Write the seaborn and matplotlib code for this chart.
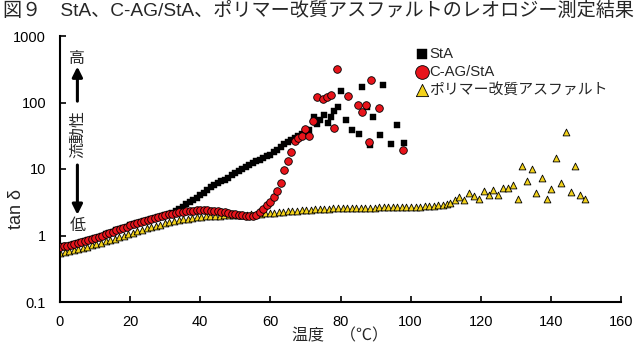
import matplotlib
matplotlib.use("Agg")
import matplotlib.pyplot as plt
import seaborn as sns
import pandas as pd

# ---------------- data ----------------
sta_temp = [0, 1, 2, 3, 4, 5, 6, 7, 8, 9, 10, 11, 12, 13, 14, 15, 16, 17, 18, 19,
            20, 21, 22, 23, 24, 25, 26, 27, 28, 29, 30, 31, 32, 33, 34, 35, 36, 37, 38, 39,
            40, 41, 42, 43, 44, 45, 46, 47, 48, 49, 50, 51, 52, 53, 54, 55, 56, 57, 58, 59,
            60, 61, 62, 63, 64, 65, 66, 67, 68, 69, 70, 71,
            72.3, 73.2, 74.2, 75.4, 76.5, 77.3, 78.2, 79.4, 80.1, 81.6, 83.3, 85.2, 86.2,
            87.5, 88.4, 89.3, 91.3, 92.2, 94.3, 96.2, 98.1]
sta_tand = [0.68, 0.69, 0.70, 0.72, 0.74, 0.76, 0.79, 0.82, 0.85, 0.88, 0.92, 0.96, 1.00,
            1.04, 1.09, 1.14, 1.19, 1.24, 1.30, 1.36, 1.42, 1.48, 1.54, 1.60, 1.66, 1.72,
            1.78, 1.84, 1.90, 1.96, 2.02, 2.08, 2.15, 2.3, 2.5, 2.7, 2.95, 3.2, 3.45, 3.7,
            4.0, 4.4, 4.9, 5.3, 5.7, 6.1, 6.5, 6.9, 7.4, 8.0, 8.7, 9.4, 10.0, 10.7, 11.4,
            12.2, 13.0, 13.8, 14.7, 15.6, 16.5, 18.0, 19.5, 21.5, 23.5, 25.5, 27.5, 29.5,
            31.5, 34, 36.5, 39,
            60, 48, 54, 64.5, 50, 60, 74, 86, 151, 55, 38, 34, 170,
            85, 22.8, 60, 33, 186, 23.4, 45.6, 24.4]

cag_temp = [0, 1, 2, 3, 4, 5, 6, 7, 8, 9, 10, 11, 12, 13, 14, 15, 16, 17, 18, 19,
            20, 21, 22, 23, 24, 25, 26, 27, 28, 29, 30, 31, 32, 33, 34, 35, 36, 37, 38, 39,
            40, 41, 42, 43, 44, 45, 46, 47, 48, 49, 50, 51, 52, 53, 54, 55, 56, 57, 58, 59,
            60, 61, 62, 63, 64, 65, 66, 67, 68, 69, 70, 71,
            72.2, 73.2, 75.1, 76.2, 77.2, 78.1, 79.1, 82.1, 85.1, 86.0, 87.2, 88.0, 88.8,
            91.0, 97.9]
cag_tand = [0.68, 0.69, 0.70, 0.72, 0.74, 0.76, 0.79, 0.82, 0.85, 0.88, 0.92, 0.96, 1.00,
            1.04, 1.09, 1.14, 1.19, 1.24, 1.30, 1.36, 1.42, 1.48, 1.54, 1.60, 1.66, 1.72,
            1.78, 1.84, 1.90, 1.96, 2.02, 2.08, 2.13, 2.18, 2.23, 2.27, 2.31, 2.34, 2.36, 2.38,
            2.39, 2.39, 2.38, 2.37, 2.35, 2.32, 2.28, 2.24, 2.19, 2.14, 2.09, 2.04, 2.0, 1.96,
            1.94, 1.96, 2.05, 2.25, 2.5, 2.9, 3.2, 3.8, 4.7, 6.2, 9.5, 13, 18.2, 26.8, 29.4,
            31.8, 40.6, 31,
            52, 120, 114, 123, 129, 41.6, 316, 124, 91, 72, 91, 25.7, 219,
            83, 19.4]

pma_temp = [0, 1.3, 2.6, 3.9, 5.2, 6.5, 7.8, 9.1, 10.4, 11.7, 13, 14.3, 15.6, 16.9, 18.2,
            19.5, 20.8, 22.1, 23.4, 24.7, 26, 27.3, 28.6, 29.9, 31.2, 32.5, 33.8, 35.1, 36.4,
            37.7, 39, 40.3, 41.6, 42.9, 44.2, 45.5, 46.8, 48.1, 49.4, 50.7, 52, 53.3, 54.6,
            55.9, 57.2, 58.5, 59.8, 61.1, 62.4, 63.7, 65, 66.3, 67.6, 68.9, 70.2, 71.5, 72.8,
            74.1, 75.4, 76.7, 78, 79.3, 80.6, 81.9, 83.2, 84.5, 85.8, 87.1, 88.4, 89.7, 91,
            92.3, 93.6, 94.9, 96.2, 97.5, 98.8, 100.1, 101.4, 102.7, 104, 105.3, 106.6,
            107.9, 109.2, 110.5, 111.2, 112.6, 113.9, 115.2, 116.7, 118.1, 119.4,
            120.9, 122.3, 123.6, 124.9, 126.3, 127.8, 129.1, 130.5, 131.9, 133.2, 134.5,
            135.9, 137.4, 138.8, 140.1, 141.5, 142.8, 144.2, 145.6, 147.0, 148.3, 149.7]
pma_tand = [0.55, 0.57, 0.59, 0.61, 0.63, 0.65, 0.68, 0.71, 0.74, 0.78, 0.82, 0.86, 0.90,
            0.95, 1.00, 1.05, 1.10, 1.16, 1.22, 1.28, 1.34, 1.40, 1.46, 1.52, 1.58, 1.64,
            1.70, 1.75, 1.80, 1.84, 1.88, 1.91, 1.94, 1.96, 1.98, 1.99, 2.00, 2.01, 2.02,
            2.03, 2.04, 2.06, 2.08, 2.10, 2.12, 2.15, 2.18, 2.21, 2.24, 2.27, 2.30, 2.33,
            2.36, 2.39, 2.42, 2.45, 2.47, 2.49, 2.51, 2.53, 2.55, 2.56, 2.57, 2.58, 2.59,
            2.60, 2.61, 2.62, 2.62, 2.63, 2.64, 2.64, 2.65, 2.66, 2.66, 2.67, 2.68, 2.69,
            2.70, 2.72, 2.74, 2.76, 2.8, 2.85, 2.9, 2.95, 3.1, 3.36, 3.8, 3.36, 4.4, 3.9,
            3.6, 4.6, 4.0, 4.9, 4.1, 5.1, 5.1, 5.8, 3.5, 11, 6.5, 10, 4.3, 7.4, 3.5, 5.0,
            14.5, 6.2, 35.8, 4.5, 11, 4.1, 3.6]

series_names = ["StA", "C-AG/StA", "ポリマー改質アスファルト"]
x_ticks = [0, 20, 40, 60, 80, 100, 120, 140, 160]
y_ticks = [0.1, 1, 10, 100, 1000]
y_tick_labels = ["0.1", "1", "10", "100", "1000"]

title = "図９　StA、C-AG/StA、ポリマー改質アスファルトのレオロジー測定結果"
x_label = "温度　（℃）"
y_label = "tan δ"

# ---------------- style ----------------
sns.set_theme(style="white")
mixed = ["Liberation Sans", "Noto Sans CJK JP", "DejaVu Sans"]
jp = ["Noto Sans CJK JP", "DejaVu Sans"]
plt.rcParams["font.family"] = mixed

fig = plt.figure(figsize=(6.4, 3.49), dpi=100)
ax = fig.add_axes([60 / 640, 1 - 302 / 349, 561 / 640, 266 / 349])

df_sta = pd.DataFrame({"T": sta_temp, "v": sta_tand})
df_cag = pd.DataFrame({"T": cag_temp, "v": cag_tand})
df_pma = pd.DataFrame({"T": pma_temp, "v": pma_tand})

sns.scatterplot(data=df_sta, x="T", y="v", ax=ax, marker="s", s=16, color="black",
                edgecolor="black", linewidth=0.3, label=series_names[0], zorder=3)
sns.scatterplot(data=df_cag, x="T", y="v", ax=ax, marker="o", s=30, color="#e8141b",
                edgecolor="black", linewidth=0.6, label=series_names[1], zorder=4)
sns.scatterplot(data=df_pma, x="T", y="v", ax=ax, marker="^", s=24, color="#f3d21a",
                edgecolor="black", linewidth=0.6, label=series_names[2], zorder=2)

ax.set_yscale("log")
ax.set_xlim(0, 160)
ax.set_ylim(0.1, 1000)
ax.set_xticks(x_ticks)
ax.set_xticklabels([str(t) for t in x_ticks])
ax.set_yticks(y_ticks)
ax.set_yticklabels(y_tick_labels)
ax.minorticks_off()
ax.tick_params(axis="both", direction="in", length=4, width=1.2, colors="black",
               labelsize=10.5, bottom=True, left=True)
ax.tick_params(axis="y", pad=10)
ax.tick_params(axis="x", pad=9)
for side in ["top", "right"]:
    ax.spines[side].set_visible(False)
for side in ["left", "bottom"]:
    ax.spines[side].set_color("black")
    ax.spines[side].set_linewidth(1.5)

ax.set_xlabel(x_label, fontsize=11.5, family=mixed, labelpad=0)
ax.set_ylabel(y_label, fontsize=13, family=["Liberation Sans", "DejaVu Sans"])
ax.yaxis.set_label_coords(-0.063, 0.35)

leg = ax.legend(loc="upper left", bbox_to_anchor=(0.637, 0.958), frameon=False,
                markerscale=1.8, handlelength=0.6, handletextpad=0.2,
                labelspacing=0.27, borderaxespad=0, borderpad=0,
                prop={"family": mixed, "size": 10.7})

# flow annotation
ax.text(0.031, 0.915, "高", transform=ax.transAxes, ha="center", va="center",
        fontsize=11.5, family=jp)
ax.text(0.031, 0.288, "低", transform=ax.transAxes, ha="center", va="center",
        fontsize=11.5, family=jp)
ax.text(0.031, 0.632, "流動性", transform=ax.transAxes, ha="center", va="center",
        rotation=90, fontsize=11.5, family=jp)
arrow = dict(arrowstyle="-|>,head_width=0.25,head_length=0.5", lw=2.2, color="black",
             shrinkA=0, shrinkB=0)
ax.annotate("", xy=(0.031, 0.885), xytext=(0.031, 0.755),
            xycoords="axes fraction", textcoords="axes fraction", arrowprops=arrow)
ax.annotate("", xy=(0.031, 0.328), xytext=(0.031, 0.515),
            xycoords="axes fraction", textcoords="axes fraction", arrowprops=arrow)

fig.text(0.004, 0.995, title, ha="left", va="top", fontsize=13.75, family=mixed)

fig.savefig("out.png", dpi=100)
